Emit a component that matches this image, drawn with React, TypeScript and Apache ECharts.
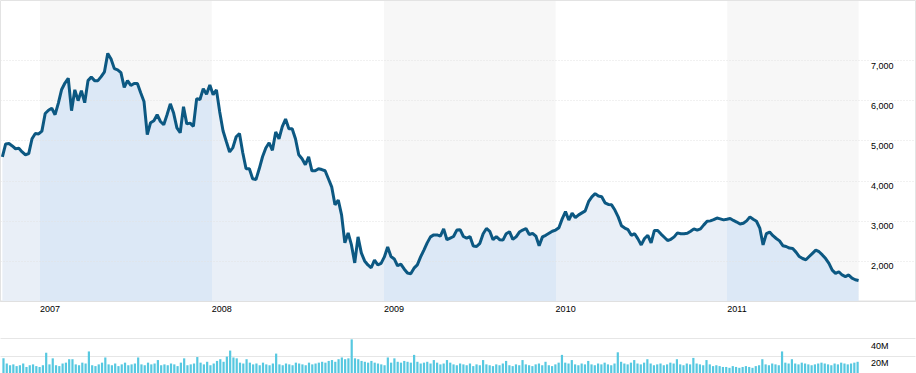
import React, { useEffect, useRef } from 'react';
import * as echarts from 'echarts';

// Weekly sampling dates (Fridays), grouped per month
const weekMonths: [string, number[]][] = [
  ['2006-10', [13, 20, 27]], ['2006-11', [3, 10, 17, 24]], ['2006-12', [1, 8, 15, 22, 29]],
  ['2007-01', [5, 12, 19, 26]], ['2007-02', [2, 9, 16, 23]], ['2007-03', [2, 9, 16, 23, 30]],
  ['2007-04', [6, 13, 20, 27]], ['2007-05', [4, 11, 18, 25]], ['2007-06', [1, 8, 15, 22, 29]],
  ['2007-07', [6, 13, 20, 27]], ['2007-08', [3, 10, 17, 24, 31]], ['2007-09', [7, 14, 21, 28]],
  ['2007-10', [5, 12, 19, 26]], ['2007-11', [2, 9, 16, 23, 30]], ['2007-12', [7, 14, 21, 28]],
  ['2008-01', [4, 11, 18, 25]], ['2008-02', [1, 8, 15, 22, 29]], ['2008-03', [7, 14, 21, 28]],
  ['2008-04', [4, 11, 18, 25]], ['2008-05', [2, 9, 16, 23, 30]], ['2008-06', [6, 13, 20, 27]],
  ['2008-07', [4, 11, 18, 25]], ['2008-08', [1, 8, 15, 22, 29]], ['2008-09', [5, 12, 19, 26]],
  ['2008-10', [3, 10, 17, 24, 31]], ['2008-11', [7, 14, 21, 28]], ['2008-12', [5, 12, 19, 26]],
  ['2009-01', [2, 9, 16, 23, 30]], ['2009-02', [6, 13, 20, 27]], ['2009-03', [6, 13, 20, 27]],
  ['2009-04', [3, 10, 17, 24]], ['2009-05', [1, 8, 15, 22, 29]], ['2009-06', [5, 12, 19, 26]],
  ['2009-07', [3, 10, 17, 24, 31]], ['2009-08', [7, 14, 21, 28]], ['2009-09', [4, 11, 18, 25]],
  ['2009-10', [2, 9, 16, 23, 30]], ['2009-11', [6, 13, 20, 27]], ['2009-12', [4, 11, 18, 25]],
  ['2010-01', [1, 8, 15, 22, 29]], ['2010-02', [5, 12, 19, 26]], ['2010-03', [5, 12, 19, 26]],
  ['2010-04', [2, 9, 16, 23, 30]], ['2010-05', [7, 14, 21, 28]], ['2010-06', [4, 11, 18, 25]],
  ['2010-07', [2, 9, 16, 23, 30]], ['2010-08', [6, 13, 20, 27]], ['2010-09', [3, 10, 17, 24]],
  ['2010-10', [1, 8, 15, 22, 29]], ['2010-11', [5, 12, 19, 26]], ['2010-12', [3, 10, 17, 24, 31]],
  ['2011-01', [7, 14, 21, 28]], ['2011-02', [4, 11, 18, 25]], ['2011-03', [4, 11, 18, 25]],
  ['2011-04', [1, 8, 15, 22, 29]], ['2011-05', [6, 13, 20, 27]], ['2011-06', [3, 10, 17, 24]],
  ['2011-07', [1, 8, 15, 22, 29]], ['2011-08', [5, 12, 19, 26]], ['2011-09', [2, 9, 16, 23, 30]],
  ['2011-10', [7]],
];

// Weekly closing prices
const prices2006 = [4600, 4920, 4930, 4870, 4800, 4810, 4720, 4650, 4680, 5050, 5180, 5170];
const prices2007 = [
  5240, 5680, 5760, 5810, 5650, 5940, 6280, 6440, 6560, 5750, 6270, 6000, 6250, 5950, 6500, 6590,
  6500, 6500, 6600, 6720, 7180, 7040, 6800, 6770, 6700, 6330, 6500, 6380, 6430, 6430, 6200, 5980,
  5150, 5450, 5500, 5650, 5480, 5400, 5650, 5920, 5690, 5320, 5200, 5850, 5420, 5440, 5360, 6050,
  6030, 6300, 6160, 6390,
];
const prices2008 = [
  6150, 6270, 5720, 5250, 4980, 4720, 4830, 5100, 5180, 4700, 4300, 4300, 4050, 4030, 4300, 4600,
  4820, 4950, 4760, 5220, 5050, 5350, 5540, 5300, 5300, 5050, 4650, 4550, 4400, 4600, 4250, 4250,
  4300, 4280, 4250, 4050, 3850, 3400, 3520, 3150, 2450, 2700, 2400, 1950, 2600, 2200, 2000, 1900,
  1830, 2020, 1900, 1940,
];
const prices2009 = [
  2100, 2350, 2110, 2050, 1880, 1920, 1800, 1700, 1680, 1820, 1900, 2100, 2270, 2450, 2600, 2650,
  2650, 2620, 2800, 2530, 2570, 2610, 2770, 2780, 2610, 2570, 2610, 2370, 2360, 2440, 2680, 2810,
  2740, 2530, 2610, 2530, 2520, 2680, 2730, 2540, 2600, 2720, 2770, 2810, 2660, 2690, 2620, 2380,
  2600, 2640, 2690, 2740,
];
const prices2010 = [
  2770, 2830, 3050, 3230, 3020, 3190, 3080, 3150, 3200, 3250, 3480, 3600, 3680, 3620, 3600, 3450,
  3410, 3400, 3270, 3100, 2880, 2820, 2780, 2640, 2680, 2550, 2400, 2560, 2640, 2450, 2760, 2760,
  2670, 2590, 2510, 2540, 2600, 2700, 2680, 2680, 2690, 2740, 2800, 2770, 2800, 2900, 2990, 3000,
  3030, 3070, 3050, 3025, 3040,
];
const prices2011 = [
  3060, 3010, 2970, 2920, 2940, 3000, 3100, 3040, 2990, 2820, 2400, 2680, 2720, 2630, 2560, 2500,
  2380, 2360, 2320, 2310, 2220, 2110, 2060, 2030, 2110, 2190, 2270, 2230, 2150, 2060, 1940, 1770,
  1690, 1730, 1650, 1610, 1650, 1570, 1530, 1510,
];

// Weekly volume, millions
const volume2006 = [17, 11, 9, 10, 8, 9, 11, 7, 9, 10, 8, 7];
const volume2007 = [
  9, 23.5, 10, 17, 9, 8, 11, 12, 16, 16, 10, 9, 12, 11, 25, 9, 8, 10, 12, 18, 10, 9, 11, 8, 10, 12,
  9, 10, 11, 18, 10, 9, 12, 10, 11, 15, 9, 10, 9, 11, 10, 8, 12, 17, 9, 10, 11, 18.5, 12, 10, 13, 9,
];
const volume2008 = [
  11, 14, 16, 13, 19, 26, 18, 17, 12, 11, 16, 12, 10, 11, 9, 12, 10, 9, 11, 22.5, 10, 9, 11, 10, 9, 12,
  11, 10, 9, 12, 10, 11, 12, 13, 12, 14, 15, 13, 16, 18, 16, 17, 39, 17, 16, 14, 13, 12, 14, 12, 11, 10,
];
const volume2009 = [
  9, 18, 12, 17, 13, 12, 14, 13, 12, 21, 13, 11, 12, 13, 11, 15, 12, 10, 11, 15, 12, 10, 9, 11, 10, 9,
  11, 8, 10, 9, 15, 10, 9, 8, 10, 9, 11, 14, 9, 8, 10, 9, 15, 10, 9, 8, 10, 11, 9, 13, 9, 8,
];
const volume2010 = [
  10, 12, 21, 12, 11, 15, 10, 9, 11, 10, 14, 10, 9, 11, 10, 12, 10, 9, 11, 24, 13, 11, 10, 12, 15, 11,
  10, 12, 16, 11, 9, 10, 11, 9, 10, 12, 11, 16, 10, 9, 11, 10, 17.5, 11, 10, 9, 15, 10, 8, 9, 8, 7, 7,
];
const volume2011 = [
  6, 8, 7, 6, 7, 8, 7, 6, 8, 9, 16, 10, 9, 11, 10, 9, 25, 12, 11, 16, 11, 10, 12, 11, 10, 9, 10, 11,
  12, 11, 10, 9, 11, 10, 12, 11, 10, 11, 12, 13,
];

const yearLabels = ['2007', '2008', '2009', '2010', '2011'];
const priceGridValues = [2000, 3000, 4000, 5000, 6000, 7000];
const volumeTicks = [20, 40];
const shadedYears: [string, string][] = [
  ['2007-01-01', '2008-01-01'],
  ['2009-01-01', '2010-01-01'],
  ['2011-01-01', '2011-10-07'],
];
const areaBands: [string | null, string | null, string][] = [
  [null, '2007-01-01', '#e9eff7'],
  ['2007-01-01', '2008-01-01', '#dce8f6'],
  ['2008-01-01', '2009-01-01', '#e9eff7'],
  ['2009-01-01', '2010-01-01', '#dce8f6'],
  ['2010-01-01', '2011-01-01', '#e9eff7'],
  ['2011-01-01', null, '#dce8f6'],
];
const axisRange = ['2006-10-09', '2012-02-05'];

const ts = (s: string) => {
  const [y, m, d] = s.split('-').map(Number);
  return new Date(y, m - 1, d).getTime();
};

const FONT = "'Liberation Sans', Arial, sans-serif";

export default function App() {
  const ref = useRef<HTMLDivElement>(null);

  useEffect(() => {
    document.body.style.margin = '0';
    const chart = echarts.init(ref.current!, null, { renderer: 'svg' });

    const dates: string[] = [];
    weekMonths.forEach(([ym, days]) => days.forEach((d) => dates.push(`${ym}-${String(d).padStart(2, '0')}`)));
    const prices = [...prices2006, ...prices2007, ...prices2008, ...prices2009, ...prices2010, ...prices2011];
    const volumes = [...volume2006, ...volume2007, ...volume2008, ...volume2009, ...volume2010, ...volume2011];

    const priceData = dates.map((d, i) => [ts(d), prices[i]]);
    const volumeData = dates.map((d, i) => [ts(d), volumes[i]]);

    const pieces = areaBands.map(([a, b, color]) => {
      const p: any = { color };
      if (a) p.gte = ts(a);
      if (b) p.lt = ts(b);
      return p;
    });

    const option: any = {
      animation: false,
      textStyle: { fontFamily: FONT },
      grid: [
        {
          left: 0.5, right: 0.5, top: 0.5, bottom: 72,
          show: true, borderColor: '#e3e3e3', borderWidth: 1, backgroundColor: 'transparent', z: 2,
        },
        { left: 0.5, right: 0.5, top: 338.5, height: 37.5 },
      ],
      visualMap: {
        show: false,
        type: 'piecewise',
        dimension: 0,
        seriesIndex: 1,
        pieces,
      },
      xAxis: [
        {
          type: 'time',
          gridIndex: 0,
          min: ts(axisRange[0]),
          max: ts(axisRange[1]),
          z: 4,
          axisLine: { show: true, lineStyle: { color: '#e0e0e0', width: 1 } },
          axisTick: { show: false },
          splitLine: { show: false },
          axisLabel: {
            align: 'left',
            margin: 3,
            fontSize: 9,
            color: '#000',
            fontFamily: FONT,
            hideOverlap: false,
            formatter: (val: number) => {
              const d = new Date(val);
              const y = String(d.getFullYear());
              return d.getMonth() === 0 && d.getDate() === 1 && yearLabels.includes(y) ? y : '';
            },
          },
        },
        {
          type: 'time',
          gridIndex: 1,
          min: ts(axisRange[0]),
          max: ts(axisRange[1]),
          show: false,
          splitLine: { show: false },
        },
      ],
      yAxis: [
        {
          type: 'value',
          gridIndex: 0,
          position: 'right',
          min: 1000,
          max: 8500,
          interval: 1000,
          axisLine: { show: false },
          axisTick: { show: false },
          splitLine: { show: false },
          axisLabel: {
            inside: true,
            align: 'left',
            verticalAlign: 'top',
            margin: 44.5,
            fontSize: 9,
            color: '#000',
            fontFamily: FONT,
            padding: [1, 0, 0, 0],
            formatter: (v: number) =>
              priceGridValues.includes(v) ? v.toLocaleString('en-US') : '',
          },
        },
        {
          type: 'value',
          gridIndex: 1,
          position: 'right',
          min: 0,
          max: 40,
          interval: 20,
          axisLine: { show: false },
          axisTick: { show: false },
          splitLine: { show: true, lineStyle: { color: '#e6e6e6', width: 1 } },
          axisLabel: {
            inside: true,
            align: 'left',
            verticalAlign: 'top',
            margin: 44.5,
            fontSize: 9,
            color: '#000',
            fontFamily: FONT,
            padding: [3, 0, 0, 0],
            formatter: (v: number) => (volumeTicks.includes(v) ? `${v}M` : ''),
          },
        },
      ],
      series: [
        {
          type: 'line',
          name: 'Price',
          xAxisIndex: 0,
          yAxisIndex: 0,
          data: priceData,
          showSymbol: false,
          silent: true,
          z: 10,
          lineStyle: { color: '#0c5882', width: 3 },
          itemStyle: { color: '#0c5882' },
          markArea: {
            silent: true,
            itemStyle: { color: '#f7f7f7', opacity: 1, borderWidth: 0 },
            label: { show: false },
            data: shadedYears.map(([a, b]) => [{ xAxis: ts(a) }, { xAxis: ts(b) }]),
          },
          markLine: {
            silent: true,
            symbol: ['none', 'none'],
            label: { show: false },
            lineStyle: { color: '#e3e3e3', type: [1, 2], width: 1 },
            data: priceGridValues.map((v) => ({ yAxis: v })),
          },
        },
        {
          type: 'line',
          name: 'Area',
          xAxisIndex: 0,
          yAxisIndex: 0,
          data: priceData,
          showSymbol: false,
          silent: true,
          z: 3,
          lineStyle: { width: 0, opacity: 0 },
          areaStyle: { opacity: 1 },
        },
        {
          type: 'bar',
          name: 'Volume',
          xAxisIndex: 1,
          yAxisIndex: 1,
          data: volumeData,
          barWidth: 2.2,
          silent: true,
          itemStyle: { color: '#57c8e0' },
        },
      ],
    };

    chart.setOption(option);
    return () => chart.dispose();
  }, []);

  return <div ref={ref} style={{ width: 916, height: 373, position: 'absolute', left: 0, top: 0 }} />;
}
